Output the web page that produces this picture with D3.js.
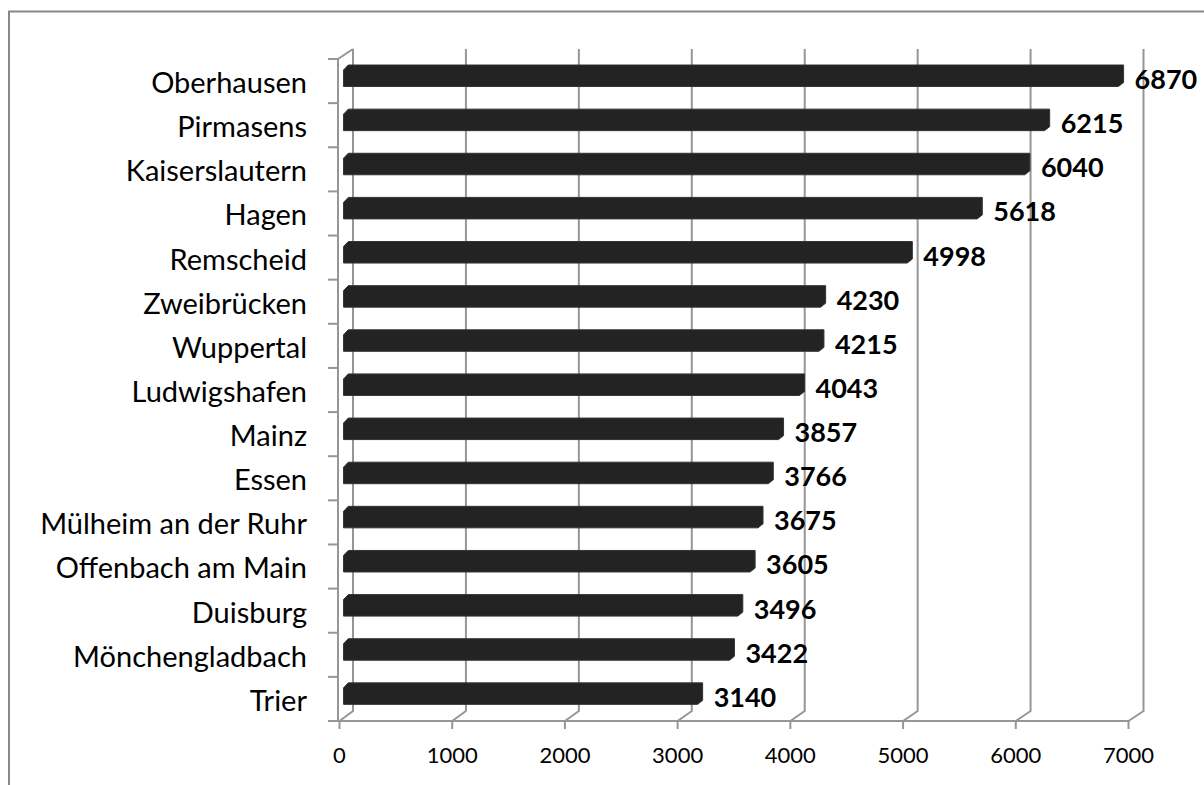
<!DOCTYPE html>
<html>
  <head>
    <meta charset="utf-8">
    <title>Städte</title>
    <script src="https://d3js.org/d3.v7.min.js"></script>
    <style>
      body { margin: 0; background: #fff; }
      text { font-family: Lato, "Open Sans", sans-serif; fill: #000; }
      .city { font-size: 29px; }
      .value { font-size: 27px; font-weight: bold; }
      .tick { font-size: 22px; }
      .wall { fill: none; stroke: #969696; stroke-width: 2; }
      .bar { fill: #232323; stroke: #333; stroke-width: 1; stroke-linejoin: round; }
    </style>
  </head>
  <body>
    <svg id="chart" width="1204" height="785"></svg>
    <script>
      // data
      cities = ["Oberhausen", "Pirmasens", "Kaiserslautern", "Hagen", "Remscheid", "Zweibrücken", "Wuppertal",
        "Ludwigshafen", "Mainz", "Essen", "Mülheim an der Ruhr", "Offenbach am Main", "Duisburg",
        "Mönchengladbach", "Trier"];
      counts = [6870, 6215, 6040, 5618, 4998, 4230, 4215, 4043, 3857, 3766, 3675, 3605, 3496, 3422, 3140];
      tickValues = [0, 1000, 2000, 3000, 4000, 5000, 6000, 7000];

      chart = d3.select("#chart");

      // front and back planes of the 3d box
      x = d3.scaleLinear().domain([0, 7000]).range([339.5, 1128.5]);
      xBack = d3.scaleLinear().domain([0, 7000]).range([353, 1143.5]);
      y = d3.scaleBand().domain(cities).range([59, 721]);
      depthY = -10;
      // bar sits between 30% and 65% of the depth
      function xAt(v, f) { return x(v) * (1 - f) + xBack(v) * f; }

      // outer frame
      chart.append("path")
        .attr("d", "M 9 800 L 9 11.5 L 1220 11.5")
        .attr("fill", "none")
        .attr("stroke", "#888")
        .attr("stroke-width", 2);

      // gridlines on the back wall, with floor slants
      walls = chart.append("g");
      walls.selectAll(".grid")
        .data(tickValues)
        .enter().append("path")
          .classed("wall", true)
          .attr("d", function(d) {
            return "M " + xBack(d) + " 49 L " + xBack(d) + " " + (721 + depthY)
              + " L " + x(d) + " 721";
          });
      // left wall front edge and its top slant
      walls.append("path")
        .classed("wall", true)
        .attr("d", "M " + xBack(0) + " 49 L 338 59 L 338 721");
      // category ticks
      walls.selectAll(".ctick")
        .data(d3.range(cities.length + 1))
        .enter().append("line")
          .classed("wall", true)
          .attr("x1", 328)
          .attr("x2", 338)
          .attr("y1", function(i) { return 59 + i * y.step(); })
          .attr("y2", function(i) { return 59 + i * y.step(); });
      // front floor edge and value ticks
      walls.append("line")
        .classed("wall", true)
        .attr("x1", 338)
        .attr("x2", x(7000) + 1)
        .attr("y1", 721)
        .attr("y2", 721);
      walls.selectAll(".vtick")
        .data(tickValues)
        .enter().append("line")
          .classed("wall", true)
          .attr("x1", function(d) { return x(d); })
          .attr("x2", function(d) { return x(d); })
          .attr("y1", 721)
          .attr("y2", 729);

      // bars as boxes: front face, top face, right face
      bars = chart.append("g")
        .selectAll(".barGroup")
          .data(cities)
        .enter().append("g");
      bars.append("path")
        .classed("bar", true)
        .attr("d", function(d, i) {
          let xl = xAt(0, 0.3), xr = xAt(counts[i], 0.3);
          let xl2 = xAt(0, 0.65), xr2 = xAt(counts[i], 0.65);
          let top = y(d) + 11, bottom = top + 16.5;
          return "M " + xl + " " + top + " L " + xl2 + " " + (top - 5)
            + " L " + xr2 + " " + (top - 5) + " L " + xr2 + " " + (bottom - 4)
            + " L " + xr + " " + bottom + " L " + xl + " " + bottom + " Z";
        });

      // value labels
      chart.append("g")
        .selectAll(".value")
          .data(cities)
        .enter().append("text")
          .classed("value", true)
          .attr("x", function(d, i) { return xAt(counts[i], 0.65) + 11; })
          .attr("y", function(d) { return y(d) + 30; })
          .text(function(d, i) { return counts[i]; });

      // category labels
      chart.append("g")
        .selectAll(".city")
          .data(cities)
        .enter().append("text")
          .classed("city", true)
          .attr("x", 307)
          .attr("y", function(d) { return y(d) + 34; })
          .attr("text-anchor", "end")
          .text(function(d) { return d; });

      // value axis labels
      chart.append("g")
        .selectAll(".tick")
          .data(tickValues)
        .enter().append("text")
          .classed("tick", true)
          .attr("x", function(d) { return x(d); })
          .attr("y", 763)
          .attr("text-anchor", "middle")
          .text(function(d) { return d; });
    </script>
  </body>
</html>
